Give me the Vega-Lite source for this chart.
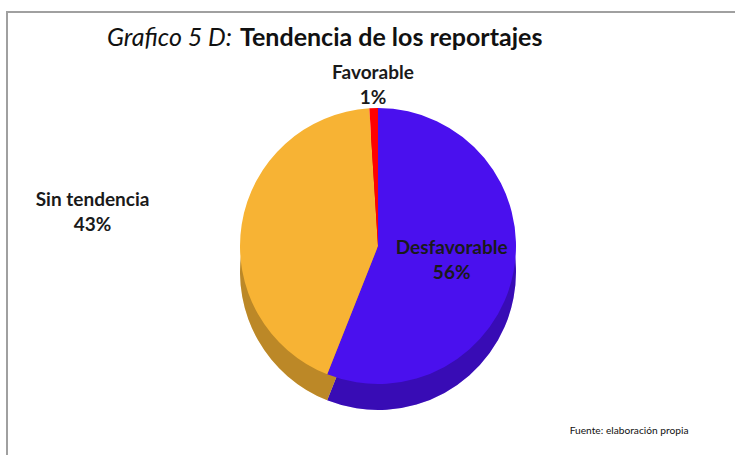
{
  "$schema": "https://vega.github.io/schema/vega-lite/v6.json",
  "width": 742,
  "height": 468,
  "autosize": {"type": "none"},
  "padding": {"left": 7, "top": 12, "right": -14, "bottom": -25},
  "background": "white",
  "config": {"view": {"stroke": "#a0a0a0", "strokeWidth": 2}, "font": "Lato"},
  "title": {
    "text": "Grafico 5 D:",
    "subtitle": "Tendencia de los reportajes",
    "anchor": "start",
    "frame": "group",
    "offset": -39,
    "dx": 100,
    "font": "Lato",
    "fontSize": 25,
    "fontStyle": "italic",
    "fontWeight": "normal",
    "color": "#111111",
    "subtitleFont": "Lato",
    "subtitleFontSize": 25,
    "subtitleFontWeight": "bold",
    "subtitleFontStyle": "normal",
    "subtitleColor": "#111111",
    "subtitlePadding": -25,
    "encode": {"title": {"update": {}}, "subtitle": {"update": {"dx": {"value": 233}}}}
  },
  "data": {"values": [
    {"categoria": "Desfavorable", "valor": 0.56, "orden": 1},
    {"categoria": "Sin tendencia", "valor": 0.43, "orden": 2},
    {"categoria": "Favorable", "valor": 0.01, "orden": 3}
  ]},
  "layer": [
    {
      "encoding": {
        "theta": {"field": "valor", "type": "quantitative", "stack": true},
        "order": {"field": "orden", "type": "quantitative"},
        "color": {
          "field": "categoria",
          "type": "nominal",
          "scale": {"domain": ["Desfavorable", "Sin tendencia", "Favorable"], "range": ["#4a10ee", "#f7b334", "#ff0000"]},
          "legend": null
        }
      },
      "layer": [
        {"mark": {"type": "arc", "radius": 138, "yOffset": 26}},
        {"mark": {"type": "arc", "radius": 138, "yOffset": 26, "opacity": 0.24}, "encoding": {"color": {"value": "#000000"}}},
        {"mark": {"type": "arc", "radius": 138}},
        {
          "mark": {
            "type": "text",
            "font": "Lato",
            "fontSize": 19,
            "fontWeight": "bold",
            "baseline": "middle",
            "radius": {"expr": "datum.categoria === 'Favorable' ? 161 : datum.categoria === 'Sin tendencia' ? 289 : 75"},
            "dy": {"expr": "datum.categoria === 'Sin tendencia' ? -1 : -12"}
          },
          "encoding": {"text": {"field": "categoria"}, "color": {"value": "#1a1a1a"}}
        },
        {
          "mark": {
            "type": "text",
            "font": "Lato",
            "fontSize": 19,
            "fontWeight": "bold",
            "baseline": "middle",
            "radius": {"expr": "datum.categoria === 'Favorable' ? 161 : datum.categoria === 'Sin tendencia' ? 289 : 75"},
            "dy": {"expr": "datum.categoria === 'Sin tendencia' ? 24 : 13"}
          },
          "encoding": {"text": {"field": "valor", "type": "quantitative", "format": ".0%"}, "color": {"value": "#1a1a1a"}}
        }
      ]
    },
    {
      "mark": {"type": "rule", "opacity": 0},
      "encoding": {
        "x": {
          "field": "valor",
          "type": "quantitative",
          "axis": {
            "title": "Fuente: elaboración propia",
            "labels": false,
            "ticks": false,
            "domain": false,
            "grid": false,
            "titleFont": "Lato",
            "titleFontSize": 10.2,
            "titleFontWeight": "normal",
            "titleColor": "#111111",
            "titleAnchor": null,
            "titleAlign": "right",
            "titleBaseline": "alphabetic",
            "titleX": 681,
            "titleY": -47
          }
        }
      }
    }
  ]
}
